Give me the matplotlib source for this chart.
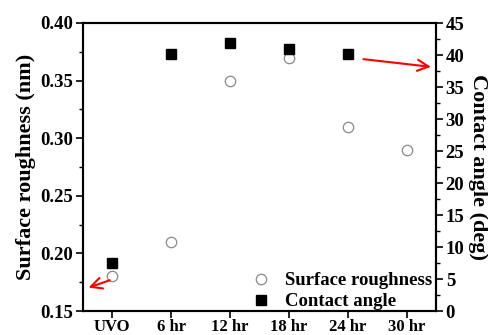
import matplotlib
matplotlib.use("Agg")
import matplotlib.pyplot as plt
from matplotlib.ticker import MultipleLocator

categories = ["UVO", "6 hr", "12 hr", "18 hr", "24 hr", "30 hr"]
roughness = [0.18, 0.21, 0.35, 0.37, 0.31, 0.29]
contact_angle = [7.5, 40.2, 41.9, 41.0, 40.1]

plt.rcParams['font.family'] = ['Liberation Serif', 'DejaVu Serif']
plt.rcParams['font.weight'] = 'bold'

fig = plt.figure(figsize=(4.88, 3.35), dpi=100)
ax = fig.add_axes([83/488, 1-311/335, (436-83)/488, (311-23)/335])
ax2 = ax.twinx()

x = list(range(len(categories)))
ax.plot(x, roughness, linestyle='none', marker='o', markersize=7.5,
        markerfacecolor='white', markeredgecolor='#888888', markeredgewidth=0.9,
        label='Surface roughness')
ax2.plot(x[:len(contact_angle)], contact_angle, linestyle='none', marker='s',
         markersize=6.5, color='black', label='Contact angle')

ax.set_xlim(-0.5, 5.5)
ax.set_ylim(0.15, 0.40)
ax2.set_ylim(0, 45)
ax.set_xticks(x)
ax.set_xticklabels(categories)
ax.yaxis.set_major_locator(MultipleLocator(0.05))
ax.yaxis.set_minor_locator(MultipleLocator(0.025))
ax.yaxis.set_major_formatter(matplotlib.ticker.FormatStrFormatter('%.2f'))
ax2.yaxis.set_major_locator(MultipleLocator(5))
ax2.yaxis.set_minor_locator(MultipleLocator(2.5))

for a in (ax, ax2):
    for s in a.spines.values():
        s.set_linewidth(1.5)
    a.tick_params(which='major', length=5, width=1.2, labelsize=13.5, pad=2)
    a.tick_params(which='minor', length=3, width=1.0)
    for lab in a.get_xticklabels() + a.get_yticklabels():
        lab.set_fontweight('bold')
ax.tick_params(axis='x', labelsize=12, pad=0.5)

ax.set_ylabel("Surface roughness (nm)", fontsize=16, fontweight='bold', labelpad=3)
ax2.set_ylabel("Contact angle (deg)", fontsize=16, fontweight='bold', rotation=270, labelpad=17)

h1, l1 = ax.get_legend_handles_labels()
h2, l2 = ax2.get_legend_handles_labels()
leg = ax2.legend(h1 + h2, l1 + l2, loc='lower right', bbox_to_anchor=(1.0, -0.01),
                 frameon=False,
                 prop={'family': 'Liberation Serif', 'weight': 'bold', 'size': 13.5},
                 handletextpad=0.7, borderaxespad=0.0, labelspacing=0.2,
                 handlelength=1.2, borderpad=0.2)

# red arrows
ax.annotate("", xy=(-0.45, 0.1695), xytext=(0.0, 0.1775),
            arrowprops=dict(arrowstyle='->', color='red', lw=1.5, mutation_scale=20))
ax2.annotate("", xy=(5.46, 38.1), xytext=(4.22, 39.4),
             arrowprops=dict(arrowstyle='->', color='red', lw=1.5, mutation_scale=20))

fig.savefig("out.png", dpi=100)
